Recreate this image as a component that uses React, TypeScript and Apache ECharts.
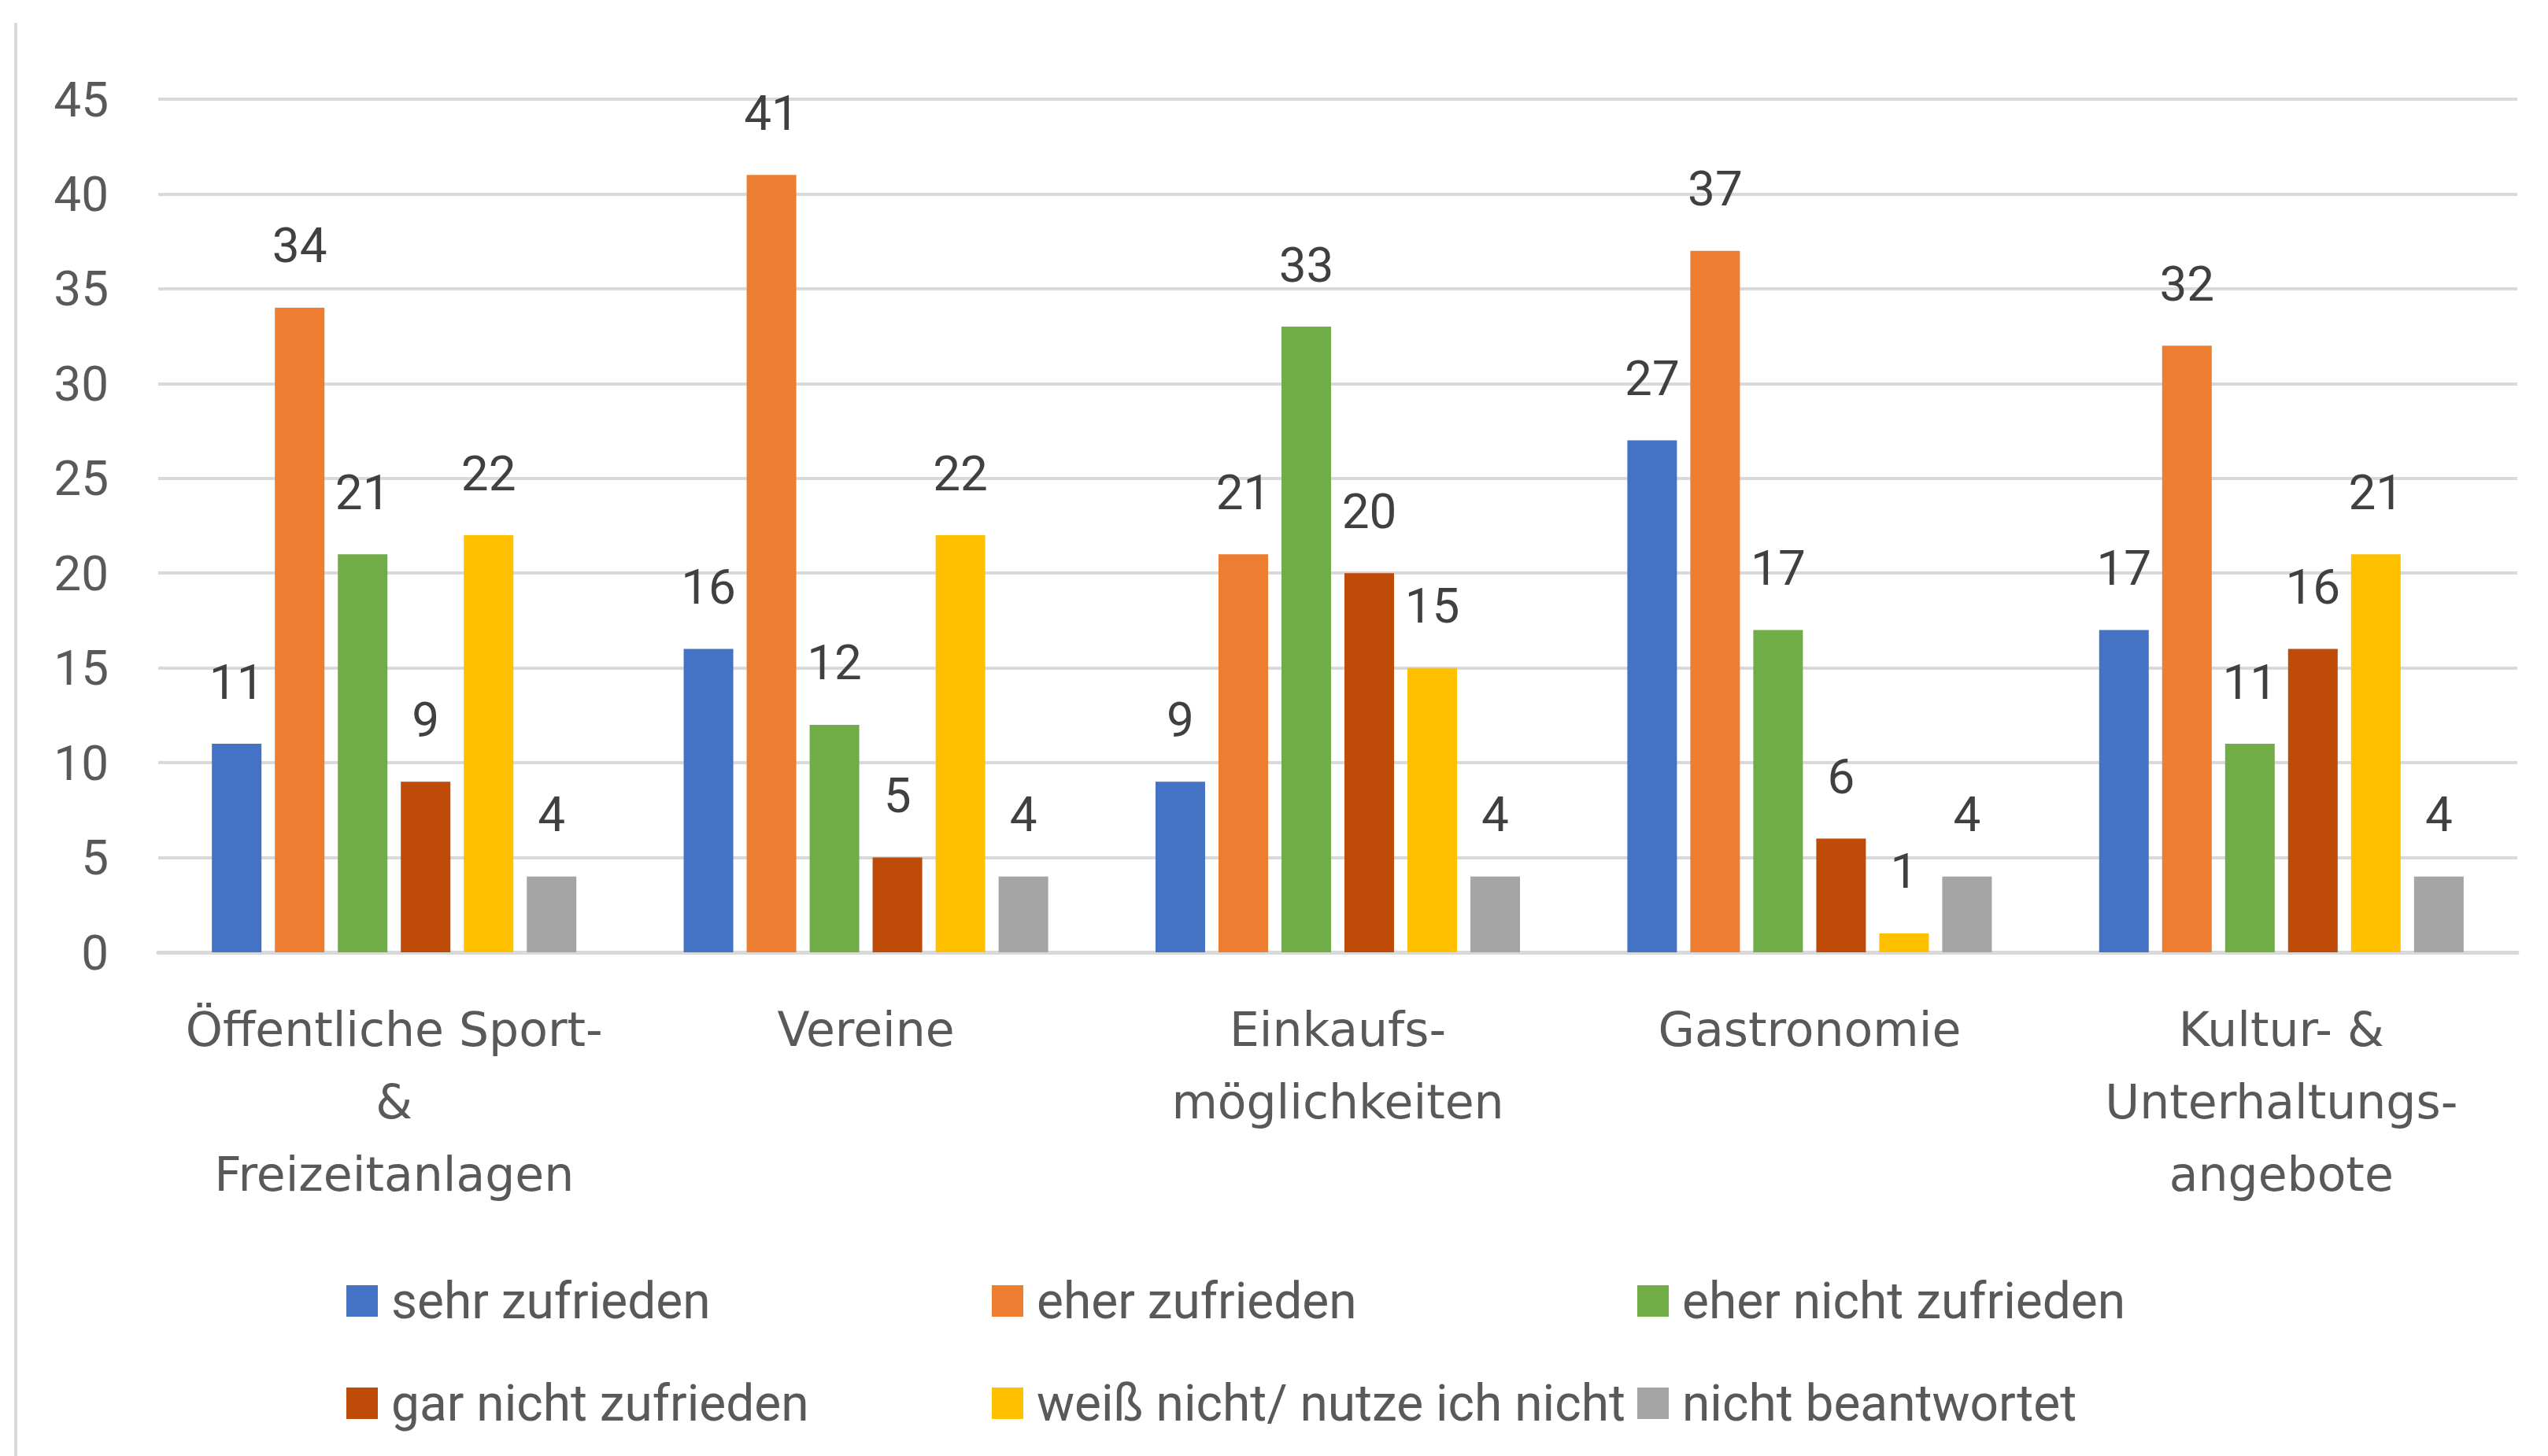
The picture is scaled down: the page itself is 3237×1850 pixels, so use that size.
import React, { useEffect, useRef } from "react";
import * as echarts from "echarts";

const categories = [
  "Öffentliche Sport-\n&\nFreizeitanlagen",
  "Vereine",
  "Einkaufs-\nmöglichkeiten",
  "Gastronomie",
  "Kultur- &\nUnterhaltungs-\nangebote",
];
const seriesNames = [
  "sehr zufrieden",
  "eher zufrieden",
  "eher nicht zufrieden",
  "gar nicht zufrieden",
  "weiß nicht/ nutze ich nicht",
  "nicht beantwortet",
];
const sehrZufrieden = [11, 16, 9, 27, 17];
const eherZufrieden = [34, 41, 21, 37, 32];
const eherNichtZufrieden = [21, 12, 33, 17, 11];
const garNichtZufrieden = [9, 5, 20, 6, 16];
const weissNicht = [22, 22, 15, 1, 21];
const nichtBeantwortet = [4, 4, 4, 4, 4];
const colors = ["#4472C4", "#ED7D31", "#70AD47", "#BF4B08", "#FFC000", "#A5A5A5"];
const yMin = 0;
const yMax = 45;
const yInterval = 5;

const FONT = "Roboto, 'Open Sans', 'Noto Sans', sans-serif";
const XFONT = "'DejaVu Sans', Roboto, sans-serif";
const TEXT = "#595959";

export default function App() {
  const ref = useRef<HTMLDivElement>(null);
  useEffect(() => {
    if (!ref.current) return;
    const chart = echarts.init(ref.current, undefined, { renderer: "svg" });
    const values = [sehrZufrieden, eherZufrieden, eherNichtZufrieden, garNichtZufrieden, weissNicht, nichtBeantwortet];
    chart.setOption({
      animation: false,
      backgroundColor: "#ffffff",
      color: colors,
      textStyle: { fontFamily: FONT },
      grid: { left: 201, right: 39, top: 126, bottom: 640, containLabel: false },
      xAxis: {
        type: "category",
        data: categories,
        axisLine: { show: true, lineStyle: { color: "#d9d9d9", width: 5 } },
        axisTick: { show: false },
        axisLabel: {
          interval: 0,
          margin: 52,
          fontSize: 60,
          lineHeight: 92,
          color: TEXT,
          fontFamily: XFONT,
        },
      },
      yAxis: {
        type: "value",
        min: yMin,
        max: yMax,
        interval: yInterval,
        axisLine: { show: false },
        axisTick: { show: false },
        splitLine: { lineStyle: { color: "#d9d9d9", width: 4 } },
        axisLabel: { margin: 63, fontSize: 62, color: TEXT, fontFamily: FONT },
      },
      legend: {
        left: 435,
        top: 1588,
        width: 2480,
        itemWidth: 40,
        itemHeight: 40,
        itemGap: 10,
        icon: "rect",
        data: seriesNames,
        textStyle: {
          fontSize: 64,
          color: TEXT,
          fontFamily: FONT,
          width: 753,
          lineHeight: 120,
          padding: [0, 0, 0, 12],
          overflow: "none",
        },
      },
      graphic: [
        {
          type: "rect",
          left: 18,
          top: 29,
          shape: { width: 4, height: 1821 },
          style: { fill: "#d9d9d9" },
          silent: true,
        },
      ],
      series: seriesNames.map((name, i) => ({
        name,
        type: "bar",
        data: values[i],
        barWidth: 63,
        barGap: "27%",
        itemStyle: { color: colors[i] },
        label: {
          show: true,
          position: "top",
          distance: 48,
          fontSize: 62,
          color: "#404040",
          fontFamily: FONT,
        },
      })),
    });
    return () => chart.dispose();
  }, []);
  return (
    <div
      ref={ref}
      style={{ position: "fixed", left: 0, top: 0, width: 3237, height: 1850, background: "#fff" }}
    />
  );
}
